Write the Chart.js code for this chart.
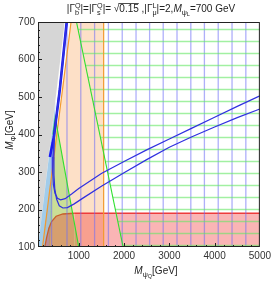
<!DOCTYPE html>
<html>
<head>
<meta charset="utf-8">
<script src="https://cdn.jsdelivr.net/npm/chart.js@4.4.0/dist/chart.umd.min.js"></script>
<style>
  html, body { margin: 0; padding: 0; background: #fff; }
  canvas { display: block; }
</style>
</head>
<body>
<canvas id="chart" width="274" height="281"></canvas>
<script>
// axis ticks in GeV
const xTicks = [1000, 2000, 3000, 4000, 5000];
const yTicks = [100, 200, 300, 400, 500, 600, 700];

// shaded regions, points are [M_psiQ, M_Phi]
const grayEdge = [[100, 100], [690, 700]];
const peachRegion = [[200, 100], [830, 700], [1550, 700], [1550, 100]];
const blueRegionTop = [[100, 100], [490, 490]];
const blueRegionBottom = [[100, 100], [360, 100], [490, 490]];
const greenRegion = [[330, 100], [480, 445], [1000, 100]];
const redCurve = [[250, 100], [290, 125], [340, 150], [400, 168], [500, 182], [650, 188], [900, 190], [5000, 190]];

// boundary lines
const orangeDiag = [[200, 100], [830, 700]];
const orangeVert = [[1550, 100], [1550, 700]];
const greenLine1 = [[430, 400], [480, 445], [1000, 100]];
const greenLine2 = [[950, 700], [1980, 100]];

// blue contours
const blueUpper = [[730, 700], [638, 590], [535, 480], [455, 400], [430, 340], [425, 300], [440, 266], [475, 243], [530, 230], [600, 226], [700, 229], [850, 242], [1000, 256], [1500, 296], [2000, 328], [2500, 359], [3000, 388], [3500, 417], [4000, 446], [4500, 475], [5000, 503]];
const blueLower = [[740, 700], [648, 590], [545, 480], [465, 400], [450, 340], [452, 292], [470, 256], [510, 228], [570, 210], [650, 204], [750, 205], [900, 215], [1100, 231], [1500, 262], [2000, 298], [2500, 333], [3000, 366], [3500, 394], [4000, 420], [4500, 445], [5000, 468]];
const blueThick = [[362, 340], [450, 393], [581, 519], [734, 700]];

// hatching: vertical blue lines and horizontal green lines
const hatchX = [400, 740, 1045, 1350, 1655, 1960, 2265, 2565, 2865, 3170, 3475, 3775, 4080, 4385, 4690];
const hatchXTop = [380, 700, 700, 700, 700, 700, 700, 700, 700, 700, 700, 700, 700, 700, 700];
const hatchY = [680, 648, 616, 584, 552, 520, 488, 456, 424, 392, 360, 328, 296, 264, 232, 200, 168, 136, 104];
const hatchYStart = [985, 1040, 1095, 1150, 1205, 1260, 1315, 1370, 1425, 1480, 1535, 1590, 1645, 1700, 1755, 1810, 1865, 1920, 1975];

const pts = arr => arr.map(([x, y]) => ({x, y}));

const vHatch = [];
hatchX.forEach((x, i) => {
  vHatch.push({x, y: 100}, {x, y: hatchXTop[i]}, {x, y: null});
});
const hHatch = [];
hatchY.forEach((y, i) => {
  hHatch.push({x: hatchYStart[i], y}, {x: 5000, y}, {x: 5000, y: null});
});

const FONT = '"Liberation Sans", Arial, sans-serif';

function fnt(size, italic) {
  return (italic ? 'italic ' : '') + size + 'px ' + FONT;
}

// draws text pieces with sub/superscripts, centred on x
function drawRich(ctx, parts, x, y, size) {
  const sm = size * 0.72;
  const tiny = size * 0.55;
  const widths = parts.map(p => {
    ctx.font = fnt(size, p.it);
    let w = ctx.measureText(p.t || '').width;
    ctx.font = fnt(sm);
    let s = Math.max(ctx.measureText(p.sub || '').width, ctx.measureText(p.sup || '').width);
    if (p.subsub) {
      ctx.font = fnt(tiny);
      s += ctx.measureText(p.subsub).width;
    }
    return [w, s];
  });
  let total = widths.reduce((a, w) => a + w[0] + w[1], 0);
  let cx = x - total / 2;
  ctx.textBaseline = 'alphabetic';
  ctx.textAlign = 'left';
  parts.forEach((p, i) => {
    const [w, s] = widths[i];
    if (p.t) {
      ctx.font = fnt(size, p.it);
      ctx.fillText(p.t, cx, y);
      if (p.over) {
        ctx.fillRect(cx - 1, y - size * 0.9, w + 1, 0.8);
      }
    }
    cx += w;
    ctx.font = fnt(sm);
    if (p.sup) ctx.fillText(p.sup, cx, y - size * 0.38);
    if (p.sub) ctx.fillText(p.sub, cx, y + size * 0.25);
    if (p.subsub) {
      ctx.font = fnt(sm);
      const sw = ctx.measureText(p.sub).width;
      ctx.font = fnt(tiny);
      ctx.fillText(p.subsub, cx + sw, y + size * 0.42);
    }
    cx += s;
  });
}

const frame = {
  id: 'frame',
  afterDraw(chart) {
    const {ctx, chartArea: a, scales: {x, y}} = chart;
    ctx.save();
    ctx.strokeStyle = '#222';
    ctx.lineWidth = 1;
    ctx.strokeRect(a.left + 0.5, a.top + 0.5, a.right - a.left - 1, a.bottom - a.top - 1);
    ctx.beginPath();
    for (let v = 200; v < 5000; v += 200) {
      const px = Math.round(x.getPixelForValue(v)) + 0.5;
      const len = v % 1000 === 0 ? 4 : 2;
      ctx.moveTo(px, a.bottom);
      ctx.lineTo(px, a.bottom - len);
    }
    for (let v = 120; v < 700; v += 20) {
      const py = Math.round(y.getPixelForValue(v)) + 0.5;
      const len = v % 100 === 0 ? 4 : 2;
      ctx.moveTo(a.left, py);
      ctx.lineTo(a.left + len, py);
    }
    ctx.stroke();

    ctx.fillStyle = '#222';
    drawRich(ctx, [
      {t: '|Γ', sub: 'b', sup: 'Q'},
      {t: '|=|Γ', sub: 's', sup: 'Q'},
      {t: '|= √'},
      {t: '0.15', over: true},
      {t: ' ,|Γ', sub: 'μ', sup: 'L'},
      {t: '|=2,'},
      {t: 'M', it: true, sub: 'ψ', subsub: 'L'},
      {t: '=700 GeV'}
    ], 151, 12, 10);

    drawRich(ctx, [
      {t: 'M', it: true, sub: 'ψ', subsub: 'Q'},
      {t: '[GeV]'}
    ], 156, 274, 10);

    ctx.save();
    ctx.translate(13, 130);
    ctx.rotate(-Math.PI / 2);
    drawRich(ctx, [
      {t: 'M', it: true, sub: 'Φ'},
      {t: '[GeV]'}
    ], 0, 0, 10);
    ctx.restore();
    ctx.restore();
  }
};

const line = (data, color, width, order, extra) => Object.assign({
  data: pts(data),
  showLine: true,
  borderColor: color,
  borderWidth: width,
  pointRadius: 0,
  fill: false,
  order
}, extra || {});

const area = (data, color, order, fill) => ({
  data: pts(data),
  showLine: true,
  borderWidth: 0,
  borderColor: 'rgba(0,0,0,0)',
  backgroundColor: color,
  pointRadius: 0,
  fill: fill || 'start',
  order
});

new Chart(document.getElementById('chart'), {
  type: 'scatter',
  data: {
    datasets: [
      area(grayEdge, '#d6d6d6', 20, 'end'),
      area(peachRegion, 'rgba(250,160,80,0.32)', 19),
      area(blueRegionTop, 'rgba(100,170,220,0.6)', 18, '+1'),
      area(blueRegionBottom, 'rgba(0,0,0,0)', 18, false),
      area(greenRegion, 'rgba(140,220,90,0.45)', 17),
      line(redCurve, '#ee3b3b', 1.3, 16, {
        fill: 'start',
        backgroundColor: 'rgba(240,30,30,0.33)',
        segment: {borderColor: c => c.p0.parsed.x < 900 ? '#c8602a' : '#ee3b3b'}
      }),
      {data: vHatch, showLine: true, spanGaps: false, borderColor: 'rgba(110,110,245,0.55)', borderWidth: 1.3, pointRadius: 0, order: 15},
      {data: hHatch, showLine: true, spanGaps: false, borderColor: 'rgba(100,230,100,0.6)', borderWidth: 1.3, pointRadius: 0, order: 14},
      line(orangeDiag, '#f29a2e', 1.2, 13),
      line(orangeVert, '#f29a2e', 1.2, 13),
      line(greenLine1, '#2ee02e', 1.1, 12),
      line(greenLine2, '#2ee02e', 1.1, 12),
      line(blueThick, '#1a1af0', 2.6, 11),
      line(blueUpper, '#3030e0', 1.2, 10),
      line(blueLower, '#3030e0', 1.2, 10)
    ]
  },
  options: {
    responsive: false,
    devicePixelRatio: 1,
    animation: false,
    events: [],
    layout: {padding: {top: 22, right: 12, left: 0, bottom: 0}},
    plugins: {legend: {display: false}, tooltip: {enabled: false}},
    scales: {
      x: {
        type: 'linear',
        min: 100,
        max: 5000,
        grid: {display: false, drawTicks: false},
        border: {display: false},
        afterBuildTicks: s => { s.ticks = xTicks.map(v => ({value: v})); },
        afterFit: s => { s.height = 34; },
        ticks: {autoSkip: false, maxRotation: 0, padding: 3, color: '#333', font: {size: 10, family: FONT}, callback: v => String(v)}
      },
      y: {
        type: 'linear',
        min: 100,
        max: 700,
        grid: {display: false, drawTicks: false},
        border: {display: false},
        afterBuildTicks: s => { s.ticks = yTicks.map(v => ({value: v})); },
        afterFit: s => { s.width = 38; },
        ticks: {autoSkip: false, padding: 3, color: '#333', font: {size: 10, family: FONT}, callback: v => String(v)}
      }
    }
  },
  plugins: [frame]
});
</script>
</body>
</html>
